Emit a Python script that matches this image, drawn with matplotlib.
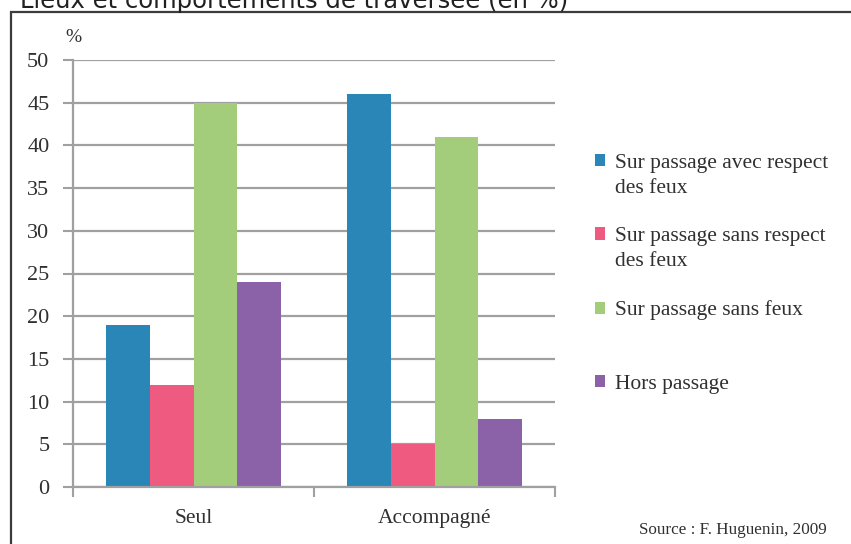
import matplotlib.pyplot as plt
import matplotlib.patches as mpatches
import numpy as np

# data
groups = ["Seul", "Accompagné"]
series = ["Sur passage avec respect", "Sur passage sans respect",
          "Sur passage sans feux", "Hors passage"]
second_lines = ["des feux", "des feux", None, None]
values_seul = [19, 12, 45, 24]
values_accomp = [46, 5, 41, 8]
colors = ["#2a86b6", "#ee5a80", "#a4cd7b", "#8b62a8"]

plt.rcParams['font.family'] = ['Liberation Serif', 'DejaVu Serif']

fig = plt.figure(figsize=(8.51, 5.44), dpi=100)

# frame around the chart
frame = mpatches.Rectangle((11/851, -0.01), 1.0, 1 - 12/544 + 0.01,
                           transform=fig.transFigure, fill=False,
                           edgecolor="#3c3c3c", linewidth=1.6)
fig.patches.append(frame)

# title, cut off at the top
fig.text(20/851, 1 - 8/544, "Lieux et comportements de traversée (en %)",
         family="DejaVu Sans", fontsize=17.5, va="baseline", color="#202020")

ax = fig.add_axes([73/851, 1 - 487/544, (555-73)/851, (487-60)/544])

x = np.arange(len(groups))
width = 0.182
data = np.array([values_seul, values_accomp]).T
for i, (lab, vals) in enumerate(zip(series, data)):
    ax.bar(x + (i - 1.5) * width, vals, width, color=colors[i], label=lab, zorder=3)

ax.set_xlim(-0.5, 1.5)
ax.set_ylim(0, 50)
ax.set_yticks(range(0, 51, 5))
ax.set_xticks(x)
ax.set_xticklabels(groups, fontsize=15.5, color="#303030")
ax.set_xticks([-0.5, 0.5, 1.5], minor=True)
ax.tick_params(axis="x", which="major", length=0, pad=16)
ax.tick_params(axis="x", which="minor", length=7, width=1.5, color="#a0a0a0")
ax.tick_params(axis="y", length=7, width=1.5, color="#a0a0a0", labelsize=16,
               labelcolor="#303030", pad=10)
ax.yaxis.grid(True, color="#a0a0a0", linewidth=1.6, zorder=0)
ax.set_axisbelow(True)
for s in ["top", "right"]:
    ax.spines[s].set_visible(False)
for s in ["left", "bottom"]:
    ax.spines[s].set_color("#a0a0a0")
    ax.spines[s].set_linewidth(1.6)
    ax.spines[s].set_zorder(4)

ax.text(0, 1.032, "%", transform=ax.transAxes, fontsize=14, color="#303030",
        ha="center", va="bottom")

leg = ax.legend(loc="upper left", bbox_to_anchor=(1.06, 0.806), frameon=False,
                fontsize=15.5, handlelength=0.5, handleheight=0.5,
                handletextpad=0.45, labelspacing=2.53, labelcolor="#303030",
                borderpad=0)

# second lines of the wrapped legend labels
fig.canvas.draw()
inv = fig.transFigure.inverted()
for t, extra in zip(leg.get_texts(), second_lines):
    if extra is None:
        continue
    bb = t.get_window_extent()
    x0, y0 = inv.transform((bb.x0, bb.y0 - 25))
    fig.text(x0, y0, extra, fontsize=15.5, color="#303030", va="bottom")

fig.text(827/851, 1 - 530/544, "Source : F. Huguenin, 2009", fontsize=12.3,
         ha="right", va="center", color="#303030")

fig.savefig("out.png", dpi=100)
